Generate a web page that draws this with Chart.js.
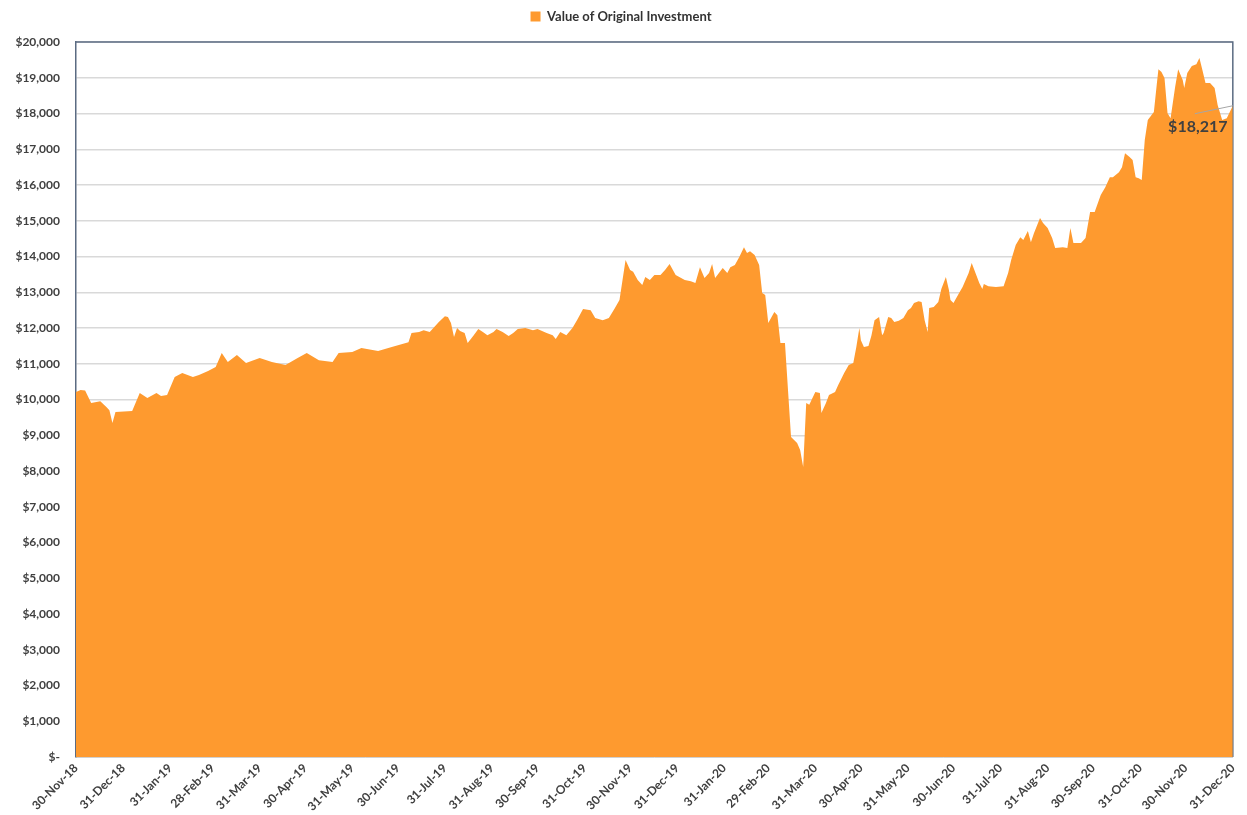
<!DOCTYPE html>
<html>
<head>
<meta charset="utf-8">
<script src="https://cdn.jsdelivr.net/npm/chart.js@4.4.1/dist/chart.umd.min.js"></script>
<style>
  html, body { margin: 0; padding: 0; background: #fff; }
  #wrap { width: 1247px; height: 815px; position: relative; }
</style>
</head>
<body>
<div id="wrap"><canvas id="investmentChart"></canvas></div>
<script>
const seriesLabel = 'Value of Original Investment';

// values
const dates = [
  '2018-11-30','2018-12-03','2018-12-06','2018-12-10','2018-12-16','2018-12-20','2018-12-22','2018-12-24','2018-12-26',
  '2019-01-06','2019-01-11','2019-01-16','2019-01-22','2019-01-25','2019-01-29','2019-02-03','2019-02-08','2019-02-15',
  '2019-02-19','2019-02-25','2019-03-02','2019-03-06','2019-03-10','2019-03-16','2019-03-22','2019-03-31','2019-04-08',
  '2019-04-17','2019-04-25','2019-05-01','2019-05-09','2019-05-18','2019-05-22','2019-05-31','2019-06-06','2019-06-17',
  '2019-06-26','2019-07-07','2019-07-09','2019-07-14','2019-07-17','2019-07-21','2019-07-27','2019-07-31','2019-08-02',
  '2019-08-04','2019-08-06','2019-08-08','2019-08-10','2019-08-13','2019-08-15','2019-08-19','2019-08-22','2019-08-25',
  '2019-08-28','2019-09-01','2019-09-03','2019-09-07','2019-09-11','2019-09-14','2019-09-17','2019-09-22','2019-09-27',
  '2019-09-30','2019-10-06','2019-10-10','2019-10-12','2019-10-15','2019-10-19','2019-10-23','2019-10-26','2019-10-30',
  '2019-11-04','2019-11-07','2019-11-12','2019-11-16','2019-11-20','2019-11-23','2019-11-25','2019-11-27','2019-11-30',
  '2019-12-02','2019-12-05','2019-12-08','2019-12-10','2019-12-13','2019-12-16','2019-12-20','2019-12-23','2019-12-26',
  '2019-12-30','2020-01-05','2020-01-09','2020-01-12','2020-01-15','2020-01-18','2020-01-21','2020-01-23','2020-01-25',
  '2020-01-30','2020-02-02','2020-02-04','2020-02-07','2020-02-10','2020-02-13','2020-02-15','2020-02-17','2020-02-20',
  '2020-02-23','2020-02-25','2020-02-27','2020-02-29','2020-03-04','2020-03-06','2020-03-08','2020-03-11','2020-03-15',
  '2020-03-19','2020-03-21','2020-03-23','2020-03-25','2020-03-27','2020-03-31','2020-04-03','2020-04-04','2020-04-07',
  '2020-04-09','2020-04-13','2020-04-15','2020-04-19','2020-04-22','2020-04-25','2020-04-27','2020-04-29','2020-04-30',
  '2020-05-02','2020-05-05','2020-05-07','2020-05-09','2020-05-12','2020-05-14','2020-05-15','2020-05-18','2020-05-20',
  '2020-05-22','2020-05-25','2020-05-28','2020-05-31','2020-06-02','2020-06-04','2020-06-07','2020-06-09','2020-06-11',
  '2020-06-13','2020-06-14','2020-06-17','2020-06-20','2020-06-22','2020-06-25','2020-06-27','2020-06-28','2020-06-30',
  '2020-07-04','2020-07-06','2020-07-10','2020-07-12','2020-07-15','2020-07-17','2020-07-19','2020-07-20','2020-07-23',
  '2020-07-28','2020-08-02','2020-08-05','2020-08-07','2020-08-10','2020-08-13','2020-08-15','2020-08-18','2020-08-20',
  '2020-08-22','2020-08-26','2020-08-28','2020-08-31','2020-09-03','2020-09-05','2020-09-10','2020-09-13','2020-09-15',
  '2020-09-17','2020-09-22','2020-09-25','2020-09-28','2020-10-01','2020-10-05','2020-10-08','2020-10-11','2020-10-13',
  '2020-10-17','2020-10-19','2020-10-21','2020-10-24','2020-10-26','2020-10-28','2020-10-30','2020-11-01','2020-11-03',
  '2020-11-05','2020-11-09','2020-11-11','2020-11-12','2020-11-14','2020-11-16','2020-11-18','2020-11-20','2020-11-23',
  '2020-11-25','2020-11-28','2020-11-29','2020-12-01','2020-12-04','2020-12-07','2020-12-09','2020-12-11','2020-12-13',
  '2020-12-16','2020-12-19','2020-12-21','2020-12-24','2020-12-27','2020-12-31'
];

const values = [
  10210,10265,10250,9900,9950,9790,9700,9340,9650,
  9680,10180,10040,10180,10100,10125,10630,10740,10630,
  10685,10800,10910,11300,11050,11245,11020,11160,11050,
  10965,11160,11300,11100,11050,11300,11330,11440,11355,
  11470,11600,11860,11890,11940,11890,12170,12330,12310,
  12140,11750,12000,11915,11860,11580,11800,11970,11890,
  11800,11890,11970,11890,11775,11860,11970,12000,11940,
  11970,11860,11800,11690,11890,11800,12000,12220,12530,
  12500,12280,12220,12280,12560,12780,13340,13900,13620,
  13570,13340,13200,13430,13340,13480,13480,13620,13790,
  13480,13340,13310,13260,13700,13400,13540,13790,13400,
  13680,13540,13700,13760,13990,14260,14100,14150,14040,
  13760,12980,12920,12140,12450,12360,11580,11580,8950,
  8780,8590,8110,9900,9850,10210,10180,9620,9900,
  10125,10210,10400,10740,10965,11020,11470,12000,11660,
  11470,11500,11800,12220,12310,11800,11860,12310,12280,
  12170,12200,12280,12500,12560,12700,12750,12730,12220,
  11890,12560,12590,12730,13090,13430,13060,12780,12700,
  13000,13150,13540,13820,13480,13260,13090,13230,13170,
  13150,13170,13540,13900,14320,14540,14460,14710,14400,
  14650,15080,14940,14800,14520,14240,14260,14240,14800,
  14380,14380,14520,15245,15245,15720,15940,16220,16220,
  16360,16500,16890,16780,16700,16220,16190,16140,17260,
  17820,18040,18850,19240,19160,18990,18010,17870,18740,
  19240,18940,18710,19130,19330,19380,19550,19210,18850,
  18850,18710,18240,17820,17870,18217
];

const tickDates = [
  '2018-11-30','2018-12-31','2019-01-31','2019-02-28','2019-03-31','2019-04-30','2019-05-31',
  '2019-06-30','2019-07-31','2019-08-31','2019-09-30','2019-10-31','2019-11-30','2019-12-31',
  '2020-01-31','2020-02-29','2020-03-31','2020-04-30','2020-05-31','2020-06-30','2020-07-31',
  '2020-08-31','2020-09-30','2020-10-31','2020-11-30','2020-12-31'
];

const finalLabel = '$18,217';

const monthNames = ['Jan','Feb','Mar','Apr','May','Jun','Jul','Aug','Sep','Oct','Nov','Dec'];
const startMs = Date.UTC(2018, 10, 30);

function dayOf(s) {
    const [y, m, d] = s.split('-').map(Number);
    return Math.round((Date.UTC(y, m - 1, d) - startMs) / 86400000);
}

function labelOf(s) {
    const [y, m, d] = s.split('-').map(Number);
    return d + '-' + monthNames[m - 1] + '-' + String(y).slice(2);
}

const tickLabels = {};
tickDates.forEach(s => { tickLabels[dayOf(s)] = labelOf(s); });

const points = dates.map((s, i) => ({ x: dayOf(s), y: values[i] }));

// a bit more room between the legend and the plot
const legendGap = {
    id: 'legendGap',
    beforeInit(chart) {
        const fit = chart.legend.fit;
        chart.legend.fit = function() {
            fit.bind(chart.legend)();
            this.height += 9;
        };
    }
};

// outline on top and right of the plot area
const frame = {
    id: 'frame',
    beforeDatasetsDraw(chart) {
        const a = chart.chartArea;
        const c = chart.ctx;
        c.save();
        c.strokeStyle = '#5b6b82';
        c.lineWidth = 1.5;
        c.beginPath();
        c.moveTo(a.left, a.top);
        c.lineTo(a.right, a.top);
        c.lineTo(a.right, a.bottom);
        c.stroke();
        c.restore();
    }
};

// label for the last value, with a small leader line
const endLabel = {
    id: 'endLabel',
    afterDatasetsDraw(chart) {
        const meta = chart.getDatasetMeta(0);
        const last = meta.data[meta.data.length - 1];
        const c = chart.ctx;
        c.save();
        c.strokeStyle = '#a6a6a6';
        c.lineWidth = 1;
        c.beginPath();
        c.moveTo(last.x, last.y);
        c.lineTo(last.x - 38, last.y + 8);
        c.stroke();
        c.font = 'bold 16px Lato, "Open Sans", sans-serif';
        c.fillStyle = '#404040';
        c.textAlign = 'center';
        c.textBaseline = 'middle';
        c.fillText(finalLabel, last.x - 35, last.y + 21);
        c.restore();
    }
};

const ctx = document.getElementById('investmentChart').getContext('2d');
new Chart(ctx, {
    type: 'line',
    data: {
        datasets: [{
            label: seriesLabel,
            data: points,
            fill: 'origin',
            backgroundColor: '#fe9a2f',
            borderColor: '#fe9a2f',
            borderWidth: 0,
            pointRadius: 0,
            tension: 0
        }]
    },
    options: {
        responsive: true,
        maintainAspectRatio: false,
        animation: false,
        layout: { padding: { top: 0, right: 5, bottom: 0, left: 0 } },
        plugins: {
            legend: {
                position: 'top',
                labels: {
                    boxWidth: 10,
                    boxHeight: 10,
                    padding: 10,
                    color: '#333333',
                    font: { family: 'Lato, "Open Sans", sans-serif', size: 13, weight: 'bold' }
                }
            },
            tooltip: { enabled: false }
        },
        scales: {
            x: {
                type: 'linear',
                min: 0,
                max: 762,
                afterBuildTicks: scale => {
                    scale.ticks = tickDates.map(s => ({ value: dayOf(s) }));
                },
                afterFit: scale => { scale.height = 58; },
                ticks: {
                    autoSkip: false,
                    minRotation: 45,
                    maxRotation: 45,
                    padding: 4,
                    color: '#404040',
                    font: { family: 'Lato, "Open Sans", sans-serif', size: 12, weight: 'bold' },
                    callback: v => tickLabels[v] || ''
                },
                grid: { display: false, drawTicks: false },
                border: { color: '#d0d0d0', width: 1 }
            },
            y: {
                min: 0,
                max: 20000,
                afterFit: scale => { scale.width = 76; },
                ticks: {
                    stepSize: 1000,
                    padding: 16,
                    color: '#404040',
                    font: { family: 'Lato, "Open Sans", sans-serif', size: 12, weight: 'bold' },
                    callback: v => v === 0 ? '$-' : '$' + v.toLocaleString('en-US')
                },
                grid: { color: '#d9d9d9', lineWidth: 1.5, drawTicks: false },
                border: { color: '#5b6b82', width: 1.5 }
            }
        }
    },
    plugins: [legendGap, frame, endLabel]
});
</script>
</body>
</html>
